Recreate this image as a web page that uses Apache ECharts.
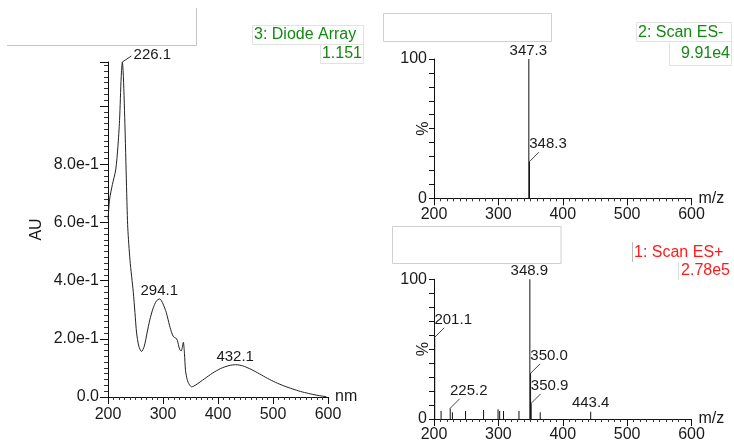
<!DOCTYPE html>
<html>
<head>
<meta charset="utf-8">
<script src="https://cdn.jsdelivr.net/npm/echarts@6/dist/echarts.min.js"></script>
<style>
html, body { margin: 0; padding: 0; background: #fff; }
#chart { width: 734px; height: 443px; }
</style>
</head>
<body>
<div id="chart"></div>
<script>
// 3: Diode Array - UV trace
var uvWave = [200, 203, 208, 214, 218, 221, 224, 226.1, 228, 231, 234, 236, 240, 246, 249, 252, 256, 261, 266, 271, 276, 282, 288, 294.1, 300, 306, 312, 316, 319, 323, 326, 330, 333, 335, 337, 339, 341, 344, 348, 352, 360, 375, 390, 405, 420, 432.1, 445, 460, 475, 490, 505, 520, 535, 550, 565, 580, 597];
var uvAbs = [0.61, 0.68, 0.73, 0.78, 0.86, 0.95, 1.10, 1.151, 1.10, 0.92, 0.70, 0.58, 0.47, 0.36, 0.29, 0.22, 0.175, 0.156, 0.175, 0.22, 0.265, 0.305, 0.33, 0.337, 0.32, 0.29, 0.245, 0.22, 0.207, 0.203, 0.195, 0.165, 0.158, 0.17, 0.188, 0.15, 0.09, 0.06, 0.042, 0.035, 0.042, 0.062, 0.082, 0.098, 0.108, 0.111, 0.107, 0.095, 0.080, 0.064, 0.050, 0.038, 0.028, 0.019, 0.012, 0.006, 0.001];
var uvPeakWave = [226.1, 294.1, 432.1];
var uvPeakAbs = [1.151, 0.337, 0.111];

// 2: Scan ES-
var negMz = [347.3, 348.3];
var negInt = [100, 26.3];
var negLabelMz = [347.3, 348.3];

// 1: Scan ES+
var posMz = [201.1, 211, 225.2, 228.6, 249, 277, 299.5, 302, 308, 332, 348.9, 350.0, 350.9, 365, 443.4];
var posInt = [58.5, 5.7, 7.7, 4.8, 5.7, 6.4, 6.9, 5.7, 5.7, 5.7, 100, 32.7, 11.2, 4.8, 5.2];
var posLabelMz = [201.1, 225.2, 348.9, 350.0, 350.9, 443.4];

var FONT = "'Liberation Sans', Arial, sans-serif";
var GREEN = '#128a12';
var RED = '#ff1a1a';

function pairs(xs, ys) {
    var out = [];
    for (var i = 0; i < xs.length; ++i) out.push([xs[i], ys[i]]);
    return out;
}
function pick(xs, ys, wanted) {
    var out = [];
    for (var i = 0; i < xs.length; ++i) {
        if (wanted.indexOf(xs[i]) != -1) out.push([xs[i], ys[i]]);
    }
    return out;
}

// peaks whose label sits up-right with a small leader line
var leadRight = {'348.3': 1, '201.1': 1, '225.2': 1, '350.0': 1, '350.9': 1};

// peak label: text + optional leader, placed relative to the peak top
function peakLabel(params, api) {
    var mz = api.value(0);
    var pt = api.coord([mz, api.value(1)]);
    var txt = mz.toFixed(1);
    var kids = [];
    var tx = pt[0], ty = pt[1] - 8;
    if (txt == '226.1') {
        kids.push({type: 'line', shape: {x1: pt[0], y1: pt[1], x2: pt[0] + 9, y2: pt[1] - 6}, style: {stroke: '#333', lineWidth: 1}});
        tx = pt[0] + 30; ty = pt[1] - 7;
    } else if (leadRight[txt]) {
        kids.push({type: 'line', shape: {x1: pt[0], y1: pt[1], x2: pt[0] + 9.5, y2: pt[1] - 9.5}, style: {stroke: '#444', lineWidth: 1}});
        tx = pt[0] + 18.5; ty = pt[1] - 17.5;
    } else if (txt == '443.4') {
        ty = pt[1] - 9;
    } else {
        tx = pt[0] - 0.5;
    }
    kids.push({type: 'text', x: tx, y: ty, style: {text: txt, fill: '#1a1a1a', font: '15px ' + FONT, align: 'center', verticalAlign: 'middle'}});
    return {type: 'group', children: kids};
}

function xAxisCfg(idx, name, margin) {
    return {
        type: 'value', gridIndex: idx, min: 200, max: 600, interval: 100,
        name: name, nameLocation: 'end', nameGap: 7,
        nameTextStyle: {color: '#1a1a1a', fontSize: 16, fontFamily: FONT, verticalAlign: 'middle'},
        axisLine: {show: true, lineStyle: {color: '#111', width: 1}},
        axisTick: {show: true, length: 7, lineStyle: {color: '#111'}},
        minorTick: {show: true, splitNumber: 10, length: 3, lineStyle: {color: '#333'}},
        axisLabel: {color: '#1a1a1a', fontSize: 16, fontFamily: FONT, margin: margin},
        splitLine: {show: false}
    };
}

function msYAxisCfg(idx) {
    return {
        type: 'value', gridIndex: idx, min: 0, max: 100, interval: 10,
        name: '%', nameLocation: 'middle', nameGap: 2, nameRotate: 90, nameMoveOverlap: false,
        nameTextStyle: {color: '#1a1a1a', fontSize: 16, fontFamily: FONT},
        axisLine: {show: true, lineStyle: {color: '#111'}},
        axisTick: {show: true, length: 5, lineStyle: {color: '#111'}},
        axisLabel: {
            color: '#1a1a1a', fontSize: 16, fontFamily: FONT, margin: 7,
            formatter: function (v) { return (v == 0 || v == 100) ? String(v) : ''; }
        },
        splitLine: {show: false}
    };
}

var myChart = echarts.init(document.getElementById('chart'));

var option = {
    animation: false,
    backgroundColor: '#fff',
    grid: [
        {left: 108, top: 62, width: 220, height: 335},
        {left: 434, top: 59, width: 257.5, height: 139.3},
        {left: 434, top: 279.3, width: 257.5, height: 139.7}
    ],
    xAxis: [
        xAxisCfg(0, 'nm', 10),
        xAxisCfg(1, 'm/z', 8),
        xAxisCfg(2, 'm/z', 8)
    ],
    yAxis: [
        {
            type: 'value', gridIndex: 0, min: 0, max: 1.151, interval: 0.2,
            name: 'AU', nameLocation: 'middle', nameGap: 63, nameRotate: 90, nameMoveOverlap: false,
            nameTextStyle: {color: '#1a1a1a', fontSize: 16, fontFamily: FONT},
            axisLine: {show: true, lineStyle: {color: '#111'}},
            axisTick: {show: true, length: 8, lineStyle: {color: '#111'}},
            minorTick: {show: true, splitNumber: 10, length: 4, lineStyle: {color: '#333'}},
            axisLabel: {
                color: '#1a1a1a', fontSize: 16, fontFamily: FONT, margin: 9,
                formatter: function (v) {
                    if (v == 0) return '0.0';
                    if (v > 0.95) return '';
                    return v.toExponential(1);
                }
            },
            splitLine: {show: false}
        },
        msYAxisCfg(1),
        msYAxisCfg(2)
    ],
    series: [
        {
            name: 'Diode Array', type: 'line', xAxisIndex: 0, yAxisIndex: 0,
            data: pairs(uvWave, uvAbs), smooth: 0.25, showSymbol: false,
            lineStyle: {color: '#222', width: 1}, clip: false
        },
        {
            name: 'uvPeaks', type: 'custom', xAxisIndex: 0, yAxisIndex: 0,
            data: pairs(uvPeakWave, uvPeakAbs), renderItem: peakLabel, clip: false
        },
        {
            name: 'Scan ES-', type: 'bar', xAxisIndex: 1, yAxisIndex: 1,
            data: pairs(negMz, negInt), barWidth: 1,
            itemStyle: {color: '#111'}
        },
        {
            name: 'negLabels', type: 'custom', xAxisIndex: 1, yAxisIndex: 1,
            data: pick(negMz, negInt, negLabelMz), renderItem: peakLabel, clip: false
        },
        {
            name: 'Scan ES+', type: 'bar', xAxisIndex: 2, yAxisIndex: 2,
            data: pairs(posMz, posInt), barWidth: 1,
            itemStyle: {color: '#111'}
        },
        {
            name: 'posLabels', type: 'custom', xAxisIndex: 2, yAxisIndex: 2,
            data: pick(posMz, posInt, posLabelMz), renderItem: peakLabel, clip: false
        }
    ],
    graphic: [
        // empty title boxes
        {type: 'polyline', shape: {points: [[7, 45.5], [196.5, 45.5], [196.5, 8]]}, style: {stroke: '#c4c4c4', fill: null, lineWidth: 1}},
        {type: 'rect', shape: {x: 383.5, y: 13.5, width: 168, height: 28}, style: {stroke: '#d0d0d0', fill: '#fff', lineWidth: 1}},
        {type: 'rect', shape: {x: 392.5, y: 226.5, width: 168.5, height: 37}, style: {stroke: '#d0d0d0', fill: '#fff', lineWidth: 1}},
        // trace headers
        {type: 'rect', shape: {x: 252.5, y: 25.5, width: 111, height: 19}, style: {stroke: '#e2e2e2', fill: null}},
        {type: 'rect', shape: {x: 320.5, y: 44.5, width: 43, height: 19}, style: {stroke: '#e2e2e2', fill: null}},
        {type: 'text', x: 254, y: 35, style: {text: '3: Diode Array', fill: GREEN, font: '16px ' + FONT, verticalAlign: 'middle'}},
        {type: 'text', x: 362, y: 54, style: {text: '1.151', fill: GREEN, font: '16px ' + FONT, align: 'right', verticalAlign: 'middle'}},
        {type: 'rect', shape: {x: 636.5, y: 22.5, width: 95, height: 19}, style: {stroke: '#e2e2e2', fill: null}},
        {type: 'rect', shape: {x: 669.5, y: 41.5, width: 62, height: 24}, style: {stroke: '#e2e2e2', fill: null}},
        {type: 'text', x: 638, y: 32.5, style: {text: '2: Scan ES-', fill: GREEN, font: '16px ' + FONT, verticalAlign: 'middle'}},
        {type: 'text', x: 730, y: 53.5, style: {text: '9.91e4', fill: GREEN, font: '16px ' + FONT, align: 'right', verticalAlign: 'middle'}},
        {type: 'line', shape: {x1: 632.5, y1: 242, x2: 632.5, y2: 262}, style: {stroke: '#bbb', lineWidth: 1}},
        {type: 'line', shape: {x1: 678.5, y1: 262, x2: 678.5, y2: 280}, style: {stroke: '#ddd', lineWidth: 1}},
        {type: 'text', x: 634, y: 252.5, style: {text: '1: Scan ES+', fill: RED, font: '16px ' + FONT, verticalAlign: 'middle'}},
        {type: 'text', x: 730, y: 270.5, style: {text: '2.78e5', fill: RED, font: '16px ' + FONT, align: 'right', verticalAlign: 'middle'}}
    ]
};

myChart.setOption(option);
</script>
</body>
</html>
